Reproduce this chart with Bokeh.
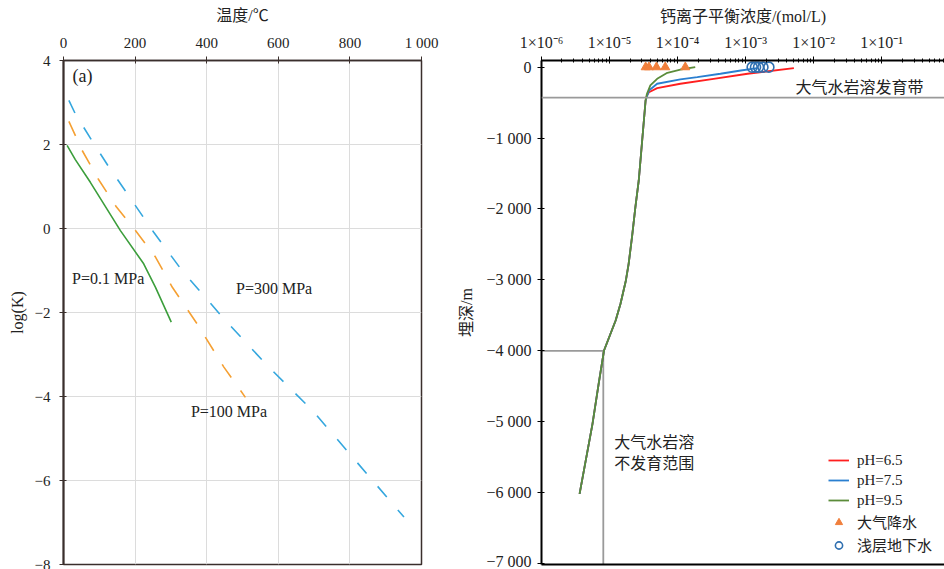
from bokeh.plotting import figure
from bokeh.layouts import row
from bokeh.models import (FixedTicker, CustomJSTickFormatter, Label, Span, Legend,
                          LegendItem, Range1d, LogAxis)
from bokeh.embed import file_html
from bokeh.resources import INLINE

# ---------------- data: panel (a) ----------------
temp_01 = [10, 33, 75, 159, 224, 257, 301]
logk_01 = [1.98, 1.64, 1.10, -0.05, -0.84, -1.40, -2.23]

temp_100 = [15, 52, 97, 148, 201, 257, 304, 373, 448, 508]
logk_100 = [2.55, 1.86, 1.18, 0.51, -0.05, -0.68, -1.40, -2.27, -3.30, -4.02]

temp_300 = [15, 33, 78, 127, 178, 252, 331, 448, 569, 695, 811, 951]
logk_300 = [3.05, 2.73, 2.11, 1.46, 0.83, -0.09, -1.00, -2.15, -3.26, -4.33, -5.48, -6.87]

temp_ticks = [0, 200, 400, 600, 800, 1000]
logk_ticks = [-8, -6, -4, -2, 0, 2, 4]

# ---------------- data: panel (b) ----------------
depth_deep = [-6017, -5030, -4466, -3996, -3573, -3337, -3008, -2773, -2398, -1975, -1598, -1034, -470]
conc_deep = [3.63e-6, 5.62e-6, 6.92e-6, 8.30e-6, 1.23e-5, 1.45e-5, 1.74e-5, 1.91e-5,
             2.14e-5, 2.40e-5, 2.69e-5, 3.02e-5, 3.39e-5]

depth_ph65 = depth_deep + [-400, -353, -296, -234, -164, -93, -14]
conc_ph65 = conc_deep + [3.55e-5, 3.80e-5, 5.01e-5, 1.10e-4, 3.39e-4, 1.07e-3, 5.13e-3]

depth_ph75 = depth_deep + [-329, -234, -173, -141, -93, -47, -12]
conc_ph75 = conc_deep + [3.80e-5, 5.01e-5, 1.10e-4, 1.95e-4, 4.27e-4, 8.51e-4, 1.48e-3]

depth_ph95 = depth_deep + [-375, -258, -164, -79, -33, 0]
conc_ph95 = conc_deep + [3.55e-5, 3.98e-5, 5.01e-5, 7.08e-5, 1.10e-4, 1.82e-4]

rain_conc = [3.4e-5, 3.8e-5, 4.9e-5, 6.6e-5, 1.3e-4]
rain_depth = [0, 0, 0, 0, 0]
ground_conc = [1.25e-3, 1.40e-3, 1.55e-3, 1.80e-3, 2.20e-3]
ground_depth = [0, 0, 0, 0, 0]

zone_depth = -430          # bottom of the meteoric-water karst zone
limit_depth = -4000        # depth below which karst does not develop
limit_conc = 8.1e-6

depth_ticks = [0, -1000, -2000, -3000, -4000, -5000, -6000, -7000]
conc_ticks = [1e-6, 1e-5, 1e-4, 1e-3, 1e-2, 1e-1]
conc_minor = [m * d for d in [1e-6, 1e-5, 1e-4, 1e-3, 1e-2, 1e-1] for m in range(2, 10)]

SERIF = "Liberation Serif, Noto Sans CJK SC"
CJK = "Noto Sans CJK SC, Liberation Serif"

num_fmt = CustomJSTickFormatter(code=r"""
const a = Math.abs(tick);
const s = a.toFixed(0).replace(/\B(?=(\d{3})+(?!\d))/g, " ");
return (tick < 0 ? "\u2212" : "") + s;
""")

log_fmt = CustomJSTickFormatter(code=r"""
const e = Math.round(Math.log10(tick));
const m = {"-":"\u207B","0":"\u2070","1":"\u00B9","2":"\u00B2","3":"\u00B3","4":"\u2074",
           "5":"\u2075","6":"\u2076","7":"\u2077","8":"\u2078","9":"\u2079"};
return "1\u00D710" + String(e).split("").map(c => m[c]).join("");
""")


def style_axis(ax, color):
    ax.axis_line_color = color
    ax.major_tick_line_color = color
    ax.minor_tick_line_color = None
    ax.major_tick_in = 3
    ax.major_tick_out = 4
    ax.major_label_text_font = SERIF
    ax.major_label_text_font_size = "15px"
    ax.major_label_text_color = "#222222"
    ax.axis_label_text_font = SERIF
    ax.axis_label_text_font_size = "16px"
    ax.axis_label_text_font_style = "normal"
    ax.axis_label_text_color = "#222222"
    ax.major_label_standoff = 6


# ---------------- panel (a) ----------------
AX1 = "#3a2f2c"
p1 = figure(width=448, height=569, x_range=Range1d(0, 1000), y_range=Range1d(-8, 4),
            x_axis_location="above", output_backend="svg", toolbar_location=None,
            min_border_left=63, min_border_right=27, min_border_top=60, min_border_bottom=5)
p1.background_fill_color = "white"
p1.border_fill_color = "white"
p1.outline_line_color = AX1
p1.outline_line_width = 1.5
p1.xaxis.ticker = FixedTicker(ticks=temp_ticks)
p1.yaxis.ticker = FixedTicker(ticks=logk_ticks)
p1.xaxis.formatter = num_fmt
p1.yaxis.formatter = num_fmt
p1.xaxis.axis_label = "温度/℃"
p1.yaxis.axis_label = "log(K)"
for ax in p1.xaxis + p1.yaxis:
    style_axis(ax, AX1)
p1.yaxis.axis_line_width = 2
p1.xaxis.axis_line_width = 1.5
p1.xaxis.axis_label_standoff = 8
p1.yaxis.major_label_standoff = 9
p1.yaxis.axis_label_standoff = 6
p1.xgrid.ticker = FixedTicker(ticks=temp_ticks)
p1.ygrid.ticker = FixedTicker(ticks=logk_ticks)
p1.grid.grid_line_color = "#dcdcdc"
p1.grid.grid_line_width = 1

p1.line(temp_300, logk_300, line_color="#35a7de", line_width=1.6, line_dash="14 17")
p1.line(temp_100, logk_100, line_color="#f5a033", line_width=1.6, line_dash="16 16")
p1.line(temp_01, logk_01, line_color="#3c9e3c", line_width=1.6)

for txt, x, y, sz in [("(a)", 25, 3.64, "18px"), ("P=0.1 MPa", 24, -1.19, "16px"),
                      ("P=300 MPa", 482, -1.43, "16px"), ("P=100 MPa", 356, -4.36, "16px")]:
    p1.add_layout(Label(x=x, y=y, text=txt, text_font=SERIF, text_font_size=sz,
                        text_color="#222222", text_baseline="middle", text_align="left"))

# ---------------- panel (b) ----------------
p2 = figure(width=496, height=569, x_axis_type="log", x_range=Range1d(1e-6, 0.84),
            y_range=Range1d(-7014, 94), x_axis_location="above",
            output_backend="svg", toolbar_location=None,
            min_border_left=93, min_border_right=0, min_border_top=60, min_border_bottom=5)
p2.background_fill_color = "white"
p2.border_fill_color = "white"
p2.outline_line_color = None
p2.grid.grid_line_color = None
p2.xaxis.ticker = FixedTicker(ticks=conc_ticks, minor_ticks=conc_minor)
p2.xaxis.formatter = log_fmt
p2.yaxis.ticker = FixedTicker(ticks=depth_ticks)
p2.yaxis.formatter = num_fmt
p2.xaxis.axis_label = "钙离子平衡浓度/(mol/L)"
p2.yaxis.axis_label = "埋深/m"
for ax in p2.xaxis + p2.yaxis:
    style_axis(ax, "black")
    ax.axis_line_width = 2
p2.xaxis.major_label_text_font_size = "16px"
p2.yaxis.major_label_text_font_size = "16px"
p2.xaxis.minor_tick_line_color = "black"
p2.xaxis.minor_tick_in = 2
p2.xaxis.minor_tick_out = 2
p2.xaxis.axis_label_standoff = 6
p2.yaxis.axis_label_standoff = 8

bax = LogAxis(ticker=FixedTicker(ticks=[]), major_label_text_font_size="0px",
              axis_line_color="black", axis_line_width=2)
p2.add_layout(bax, "below")

GRAY = "#9a9a9a"
p2.add_layout(Span(location=zone_depth, dimension="width", line_color=GRAY, line_width=1.8))
p2.segment(x0=[1e-6, limit_conc], y0=[limit_depth, limit_depth],
           x1=[limit_conc, limit_conc], y1=[limit_depth, -7014],
           line_color=GRAY, line_width=1.8)

r65 = p2.line(conc_ph65, depth_ph65, line_color="#ff1f1f", line_width=1.8)
r75 = p2.line(conc_ph75, depth_ph75, line_color="#2a7fd0", line_width=1.8)
r95 = p2.line(conc_ph95, depth_ph95, line_color="#5b8c3a", line_width=1.8)
rr = p2.scatter(rain_conc, rain_depth, marker="triangle", size=9,
                fill_color="#f07f3c", line_color="#f07f3c")
rg = p2.scatter(ground_conc, ground_depth, marker="circle", size=10,
                fill_color=None, line_color="#2f6fb0", line_width=1.6)

p2.add_layout(Label(x=5.4e-3, y=-272, text="大气水岩溶发育带", text_font=CJK,
                    text_font_size="16px", text_color="#222222",
                    text_baseline="middle", text_align="left"))
p2.add_layout(Label(x=1.17e-5, y=-5279, text="大气水岩溶", text_font=CJK,
                    text_font_size="16px", text_color="#222222",
                    text_baseline="middle", text_align="left"))
p2.add_layout(Label(x=1.17e-5, y=-5575, text="不发育范围", text_font=CJK,
                    text_font_size="16px", text_color="#222222",
                    text_baseline="middle", text_align="left"))

legend = Legend(items=[LegendItem(label="pH=6.5", renderers=[r65]),
                       LegendItem(label="pH=7.5", renderers=[r75]),
                       LegendItem(label="pH=9.5", renderers=[r95]),
                       LegendItem(label="大气降水", renderers=[rr]),
                       LegendItem(label="浅层地下水", renderers=[rg])],
                location=(287, 9), glyph_width=21, glyph_height=18, label_height=18,
                spacing=2, padding=0, margin=0, label_standoff=8,
                border_line_color=None, background_fill_alpha=0,
                label_text_font=SERIF, label_text_font_size="15px",
                label_text_color="#222222")
p2.add_layout(legend, "center")

layout = row(p1, p2)
open("out.html", "w").write(file_html(layout, INLINE))
